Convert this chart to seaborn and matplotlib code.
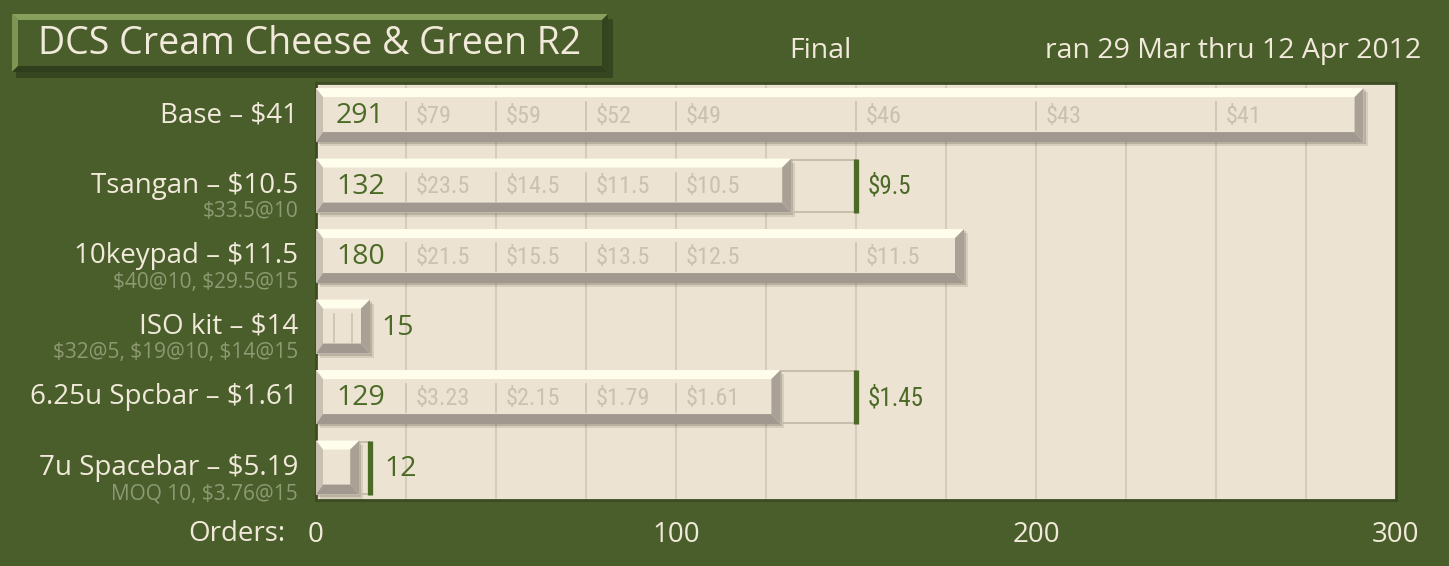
import numpy as np
import pandas as pd
import matplotlib
matplotlib.use("Agg")
import matplotlib.pyplot as plt
import seaborn as sns
from matplotlib.patches import Polygon, Rectangle
from matplotlib import font_manager

# data
categories = ["Base – $41", "Tsangan – $10.5", "10keypad – $11.5", "ISO kit – $14",
              "6.25u Spcbar – $1.61", "7u Spacebar – $5.19"]
sublabels = ["", "$33.5@10", "$40@10, $29.5@15", "$32@5, $19@10, $14@15", "", "MOQ 10, $3.76@15"]
orders = [291, 132, 180, 15, 129, 12]
break_qty = [[25, 50, 75, 100, 150, 200, 250], [25, 50, 75, 100], [25, 50, 75, 100, 150],
             [5, 10], [25, 50, 75, 100], []]
break_price = [["$79", "$59", "$52", "$49", "$46", "$43", "$41"], ["$23.5", "$14.5", "$11.5", "$10.5"],
               ["$21.5", "$15.5", "$13.5", "$12.5", "$11.5"], ["", ""],
               ["$3.23", "$2.15", "$1.79", "$1.61"], []]
target_qty = [None, 150, None, None, 150, 15]
target_price = ["", "$9.5", "", "", "$1.45", ""]
x_ticks = [0, 100, 200, 300]

bg = "#4a5e2c"
paper = "#ede3d3"
cream = "#f1e9d9"
green = "#4b6a26"
grid_c = "#d6ccbc"
price_c = "#cbc1b1"
sub_c = "#8e9a72"

avail = {f.name for f in font_manager.fontManager.ttflist}
plt.rcParams["font.family"] = [f for f in ["Open Sans", "DejaVu Sans"] if f in avail] or ["DejaVu Sans"]
plt.rcParams["text.parse_math"] = False
narrow = next((n for n in ["Liberation Sans Narrow", "Roboto Condensed", "DejaVu Sans"] if n in avail), "DejaVu Sans")

W, H = 1449, 566
fig = plt.figure(figsize=(W / 100, H / 100), dpi=100, facecolor=bg)


def fp(x, y):
    return (x / W, 1 - y / H)


# title box
def fig_poly(pts, color, **kw):
    fig.patches.append(Polygon([fp(*p) for p in pts], closed=True, transform=fig.transFigure,
                               facecolor=color, edgecolor="none", **kw))


bx0, by0, bx1, by1, bw = 12, 14, 608, 72, 6
fig_poly([(bx0 + 4, by0 + 5), (bx1 + 5, by0 + 5), (bx1 + 5, by1 + 6), (bx0 + 4, by1 + 6)], "#2a3718", alpha=0.6)
fig_poly([(bx0, by0), (bx1, by0), (bx1, by1), (bx0, by1)], bg)
fig_poly([(bx0, by0), (bx1, by0), (bx1 - bw, by0 + bw), (bx0 + bw, by0 + bw)], "#87a05c")
fig_poly([(bx0, by0), (bx0 + bw, by0 + bw), (bx0 + bw, by1 - bw), (bx0, by1)], "#7d9653")
fig_poly([(bx0, by1), (bx0 + bw, by1 - bw), (bx1 - bw, by1 - bw), (bx1, by1)], "#2f3e1c")
fig_poly([(bx1, by0), (bx1 - bw, by0 + bw), (bx1 - bw, by1 - bw), (bx1, by1)], "#34441f")
fig.text(*fp(310, 44), "DCS Cream Cheese & Green R2", ha="center", va="center", fontsize=27, color=cream)
fig.text(*fp(820, 51), "Final", ha="center", va="center", fontsize=20.5, color=cream)
fig.text(*fp(1421, 51), "ran 29 Mar thru 12 Apr 2012", ha="right", va="center", fontsize=20.5, color=cream)
fig.text(*fp(285, 534), "Orders:", ha="right", va="center", fontsize=20, color=cream)

ax = fig.add_axes([316 / W, 1 - 500 / H, 1080 / W, 417 / H])
ax.set_facecolor(paper)
df = pd.DataFrame({"item": categories, "orders": orders})
sns.barplot(data=df, x="orders", y="item", orient="h", color=paper, saturation=1, width=0.766,
            ax=ax, zorder=3, edgecolor="none")
ax.set_xlim(0, 300)
ax.set_ylim(5.46, -0.455)
px = 300 / 1080
py = (5.46 + 0.455) / 417

ax.set_xticks(x_ticks)
ax.set_xticks(np.arange(0, 301, 25), minor=True)
ax.tick_params(axis="x", which="both", length=0, pad=15, labelsize=20, labelcolor=cream)
ax.set_yticks([])
ax.set_xlabel("")
ax.set_ylabel("")
ax.grid(axis="x", which="both", color=grid_c, lw=1.5)
ax.set_axisbelow(True)
for s in ax.spines.values():
    s.set_color("#3b4c22")
    s.set_linewidth(2)


def poly(pts, color, z):
    ax.add_patch(Polygon(pts, closed=True, facecolor=color, edgecolor="none", zorder=z))


t, b, l, r = 9 * py, 10 * py, 7 * px, 9 * px
for i, p in enumerate(ax.patches[:len(orders)]):
    v = p.get_width()
    yc = p.get_y() + p.get_height() / 2
    h = p.get_height() / 2
    yt, yb = yc - h, yc + h
    # soft drop shadow
    for k, a in [(4, 0.12), (2, 0.18)]:
        ax.add_patch(Rectangle((k * px, yt + k * py), v, 2 * h, facecolor="#3a3020", alpha=a,
                               edgecolor="none", zorder=2.8))
    # bevels
    poly([(0, yt), (v, yt), (v - r, yt + t), (l, yt + t)], "#fffdec", 4)
    poly([(0, yt), (l, yt + t), (l, yb - b), (0, yb)], "#c9c0b2", 4)
    poly([(0, yb), (l, yb - b), (v - r, yb - b), (v, yb)], "#a1998f", 4)
    poly([(v, yt), (v - r, yt + t), (v - r, yb - b), (v, yb)], "#aaa196", 4)
    # price break markers
    for q, lab in zip(break_qty[i], break_price[i]):
        ax.plot([q, q], [yt + t + 5 * py, yb - b - 2 * py], color="#cfc5b5", lw=1.3, zorder=5)
        if lab:
            ax.text(q + 10 * px, yc + 1 * py, lab, ha="left", va="center", fontsize=17.5,
                    color=price_c, family=narrow, fontstretch="condensed", zorder=6)
    end = v
    tq = target_qty[i]
    if tq is not None:
        ax.add_patch(Rectangle((v, yt + 1 * py), tq - v, 2 * h - 2 * py, fill=False,
                               edgecolor="#c6bba9", lw=1.3, zorder=2.9))
        ax.plot([tq, tq], [yt, yb], color=green, lw=3.8, solid_capstyle="butt", zorder=5)
        if target_price[i]:
            ax.text(tq + 12 * px, yc + 1 * py, target_price[i], ha="left", va="center", fontsize=18,
                    color=green, family=narrow, fontstretch="condensed", zorder=6)
        end = max(v, tq) + 3 * px
    if v >= 25:
        ax.text(20 * px, yc + 1 * py, f"{orders[i]}", ha="left", va="center", fontsize=20.5,
                color=green, zorder=6)
    else:
        ax.text(end + 11 * px, yc + 1 * py, f"{orders[i]}", ha="left", va="center", fontsize=20.5,
                color=green, zorder=6)
    # row labels
    ax.annotate(categories[i], xy=(0, yc), xycoords=("axes fraction", "data"), xytext=(-18, 0),
                textcoords="offset pixels", ha="right", va="center", fontsize=20, color=cream,
                annotation_clip=False)
    if sublabels[i]:
        ax.annotate(sublabels[i], xy=(0, yc), xycoords=("axes fraction", "data"), xytext=(-18, -26),
                    textcoords="offset pixels", ha="right", va="center", fontsize=15, color=sub_c,
                    annotation_clip=False)

fig.savefig("out.png", dpi=100, facecolor=bg)
